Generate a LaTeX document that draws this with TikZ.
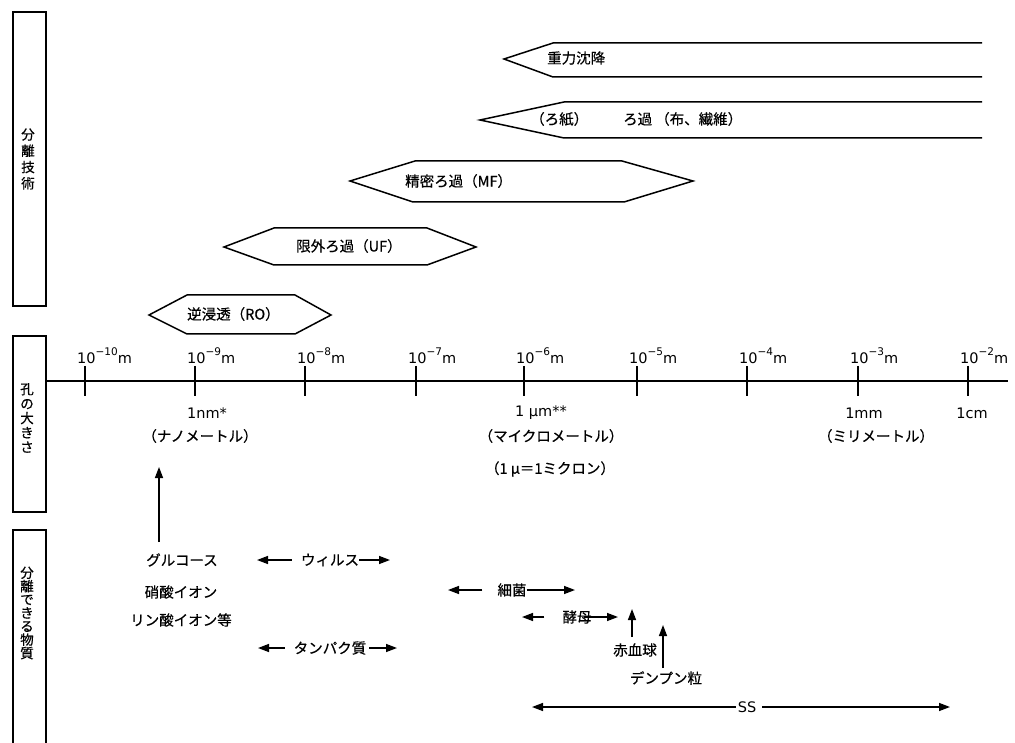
\documentclass[tikz,border=0pt]{standalone}
\usepackage{fontspec}
\newfontfamily\jp[FakeBold=0.5]{Noto Sans CJK JP}
\newfontfamily\dv{DejaVu Sans}
\usetikzlibrary{arrows.meta}
\newcommand\tenpow[1]{10\raisebox{0.5em}{\fontsize{10.5}{10}\selectfont −#1}m}
\begin{document}
\begin{tikzpicture}[x=1pt,y=-1pt,
  jt/.style={font=\jp\fontsize{14.5}{16}\selectfont, inner sep=0pt},
  st/.style={font=\dv\fontsize{14.5}{16}\selectfont, inner sep=0pt},
  vt/.style={font=\jp\fontsize{13.5}{#1}\selectfont, inner sep=0pt, align=center},
  ln/.style={line width=1.5pt},
  arr/.style={line width=1.4pt, -{Triangle[length=11pt,width=8pt]}},
  box/.style={draw, line width=1.5pt, inner sep=0pt},
]
\useasboundingbox (0,0) rectangle (1015,743);

% left boxes
\node[box, minimum width=33pt, minimum height=294pt] (b1) at (29.5,159) {};
\node[vt=16.3] (b1t) at (28,159) {分\\離\\技\\術};
\node[box, minimum width=33pt, minimum height=176pt] (b2) at (29.5,424) {};
\node[vt=14.5] (b2t) at (27,418) {孔\\の\\大\\き\\さ};
\draw[ln] (13,743) -- (13,530) -- (46,530) -- (46,743);
\node[vt=13.4] (b3t) at (27,613) {分\\離\\で\\き\\る\\物\\質};

% separation techniques
\draw[ln] (982,43) -- (553,43) -- (504,59) -- (553,77) -- (982,77);
\node[jt, anchor=west] (grav) at (547,58) {重力沈降};
\draw[ln] (982,102) -- (564,102) -- (480,120) -- (564,138) -- (982,138);
\node[jt, anchor=west] (filt) at (530,119) {（ろ紙）\hspace{35pt}ろ過\hspace{3pt}（布、繊維）};
\draw[ln] (350,181) -- (415,161) -- (622,161) -- (693,181) -- (624,202) -- (413,202) -- cycle;
\node[jt, anchor=west] (mf) at (405,181) {精密ろ過（MF）};
\draw[ln] (224,247) -- (274,228) -- (427,228) -- (476,247) -- (427,265) -- (274,265) -- cycle;
\node[jt, anchor=west] (uf) at (296,246) {限外ろ過（UF）};
\draw[ln] (149,315) -- (187,295) -- (295,295) -- (331,315) -- (295,334) -- (187,334) -- cycle;
\node[jt, anchor=west] (ro) at (187,314) {逆浸透（RO）};

% axis
\coordinate (ax0) at (b2.east |- 0,381);
\coordinate (ax1) at (1008,381);
\draw[ln] (ax0) -- (ax1);
\foreach \x/\e in {85/10,195/9,305/8,416/7,524/6,637/5,747/4,858/3,968/2} {
  \draw[ln] (\x,366) -- (\x,396);
  \node[st, anchor=base west] (p\e) at (\x-8,363) {\tenpow{\e}};
}
\node[st] (nm) at (207,413) {1nm*};
\node[st] (um) at (541,413) {1 μm**};
\node[st] (mm) at (864,413) {1mm};
\node[st] (cm) at (972,413) {1cm};
\node[jt] (nano) at (200,436) {（ナノメートル）};
\node[jt] (micro) at (551,436) {（マイクロメートル）};
\node[jt] (milli) at (876,436) {（ミリメートル）};
\node[jt] (micron) at (550,469) {（1 μ＝1ミクロン）};

% substances
\node[jt] (glu) at (182,560) {グルコース};
\node[jt] (no3) at (181,592) {硝酸イオン};
\node[jt] (po4) at (181,620) {リン酸イオン等};
\coordinate (up0) at (159,542);
\coordinate (up1) at (159,467);
\draw[arr] (up0) -- (up1);

\node[jt] (virus) at (330,560) {ウィルス};
\coordinate (vL) at (257,560);
\coordinate (vR) at (390,560);
\draw[arr] ([xshift=-9pt]virus.west) -- (vL);
\draw[arr] (virus.east) -- (vR);

\node[jt] (prot) at (330,648) {タンパク質};
\coordinate (pL) at (258,648);
\coordinate (pR) at (397,648);
\draw[arr] ([xshift=-9pt]prot.west) -- (pL);
\draw[arr] ([xshift=3pt]prot.east) -- (pR);

\node[jt] (bact) at (512,590) {細菌};
\coordinate (bL) at (448,590);
\coordinate (bR) at (575,590);
\draw[arr] ([xshift=-15pt]bact.west) -- (bL);
\draw[arr] (bact.east) -- (bR);

\node[jt] (yeast) at (577,617) {酵母};
\coordinate (yL) at (522,617);
\coordinate (yR) at (618,617);
\draw[arr] ([xshift=-18pt]yeast.west) -- (yL);
\draw[arr] ([xshift=-8pt]yeast.east) -- (yR);

\node[jt] (rbc) at (635,650) {赤血球};
\coordinate (rbcT) at (632,609);
\draw[arr] ([yshift=6pt]rbc.north -| rbcT) -- (rbcT);

\node[jt] (starch) at (666,678) {デンプン粒};
\coordinate (stT) at (663,625);
\draw[arr] ([yshift=3pt]starch.north -| stT) -- (stT);

\node[st] (ss) at (747,707) {SS};
\coordinate (sL) at (532,707);
\coordinate (sR) at (950,707);
\draw[arr] ([xshift=-2pt]ss.west) -- (sL);
\draw[arr] ([xshift=6pt]ss.east) -- (sR);
\end{tikzpicture}
\end{document}
